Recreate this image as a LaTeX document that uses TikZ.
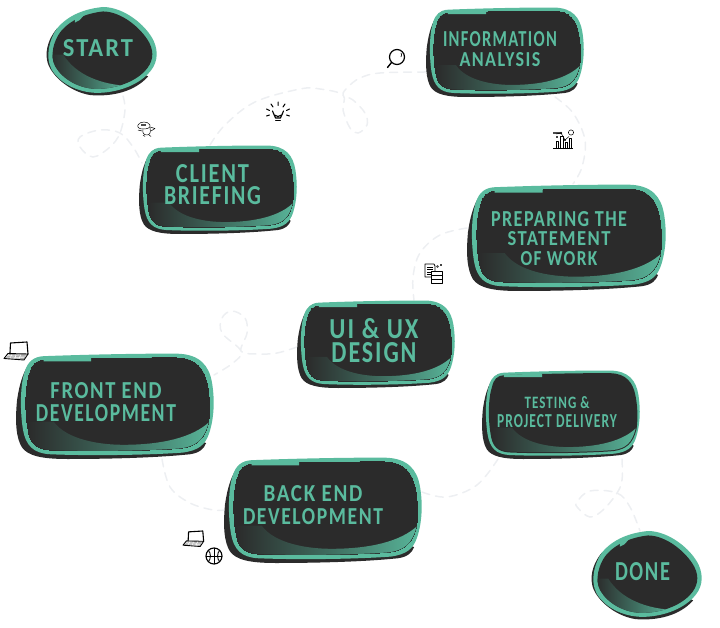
\documentclass[tikz,border=0pt]{standalone}
\usepackage{graphicx}
\usepackage{fontspec}
\setmainfont{Carlito}[BoldFont=Carlito Bold,LetterSpace=8]
\definecolor{tealb}{HTML}{5ABB9E}
\definecolor{darkb}{HTML}{2B2B2B}
\definecolor{dashc}{HTML}{EDEFF2}
\definecolor{midb}{HTML}{3F6E60}
\tikzset{
  boxnode/.style={inner sep=0pt,outer sep=0pt},
  conn/.style={dashc,line width=1.5pt,dash pattern=on 8pt off 6pt,line cap=round},
  lab/.style={inner sep=0pt,text=tealb,font=\bfseries},
  ico/.style={black,line width=.8pt,line cap=round,line join=round,fill=none},
  icot/.style={black,line width=.5pt,line join=round,fill=none},
}
\newcommand\FL[3]{\resizebox{#1pt}{#2pt}{#3}}
\def\RT{(.139,.03) .. controls (.35,.015) and (.6,.005) .. (.81,.006) .. controls (.93,.01) and (.975,.12) .. (.99,.28) .. controls (1.005,.45) and (1.0,.62) .. (.975,.76) .. controls (.955,.87) and (.92,.92) .. (.84,.94) .. controls (.65,.965) and (.35,.97) .. (.17,.955) .. controls (.09,.945) and (.05,.88) .. (.035,.72) .. controls (.02,.55) and (.02,.3) .. (.045,.17) .. controls (.06,.08) and (.09,.035) .. (.139,.03) -- cycle}
\def\RI{(.139,.07) .. controls (.35,.055) and (.6,.045) .. (.81,.047) .. controls (.91,.05) and (.95,.15) .. (.965,.29) .. controls (.98,.42) and (.98,.55) .. (.972,.66) .. controls (.95,.82) and (.91,.88) .. (.83,.9) .. controls (.65,.925) and (.35,.93) .. (.17,.915) .. controls (.10,.905) and (.07,.85) .. (.06,.71) .. controls (.045,.55) and (.045,.32) .. (.07,.19) .. controls (.08,.11) and (.1,.075) .. (.139,.07) -- cycle}
\def\RD{(.10,.05) .. controls (.05,.1) and (.02,.25) .. (.005,.45) .. controls (-.005,.65) and (0,.8) .. (.03,.89) .. controls (.06,.97) and (.13,1) .. (.26,1) .. controls (.45,1.0) and (.7,.99) .. (.88,.955) .. controls (.93,.94) and (.95,.9) .. (.96,.85) -- (.5,.5) -- cycle}
\def\ET{(.513,0) .. controls (.70,.0) and (.90,.2) .. (.97,.38) .. controls (1.02,.52) and (1.0,.65) .. (.92,.75) .. controls (.82,.88) and (.65,.96) .. (.47,.965) .. controls (.28,.965) and (.12,.85) .. (.05,.70) .. controls (-.01,.56) and (.03,.36) .. (.10,.24) .. controls (.2,.09) and (.35,.02) .. (.513,0) -- cycle}
\def\EI{(.513,.05) .. controls (.68,.05) and (.86,.24) .. (.93,.40) .. controls (.98,.52) and (.96,.63) .. (.89,.72) .. controls (.80,.84) and (.63,.92) .. (.46,.92) .. controls (.30,.92) and (.15,.81) .. (.085,.67) .. controls (.03,.55) and (.07,.38) .. (.13,.28) .. controls (.22,.14) and (.37,.07) .. (.513,.05) -- cycle}
\def\ED{(.10,.24) .. controls (.03,.34) and (-.01,.48) .. (.01,.60) .. controls (.03,.75) and (.20,.95) .. (.40,.99) .. controls (.6,1.01) and (.8,.95) .. (.92,.78) -- (.5,.5) -- cycle}
\newcommand\roundblob[5][0pt]{%
  \begin{scope}[shift={(#2,#3)},x=#4pt,y=-#5pt]
    \fill[darkb] \RD;
    \fill[tealb] \RT;
    \fill[darkb] \RI;
    \draw[darkb,line width=#1] \RI;
    \fill[tealb] (.139,.055) -- (.38,.04) -- (.38,.08) -- (.139,.08) -- cycle;
    \begin{scope}
      \clip \RI;
      \shade[left color=darkb,right color=tealb,middle color=midb] (.19,.647) .. controls (.257,.819) and (.424,.866) .. (.542,.866) .. controls (.727,.866) and (.894,.803) .. (.982,.64) -- (1.02,.64) -- (1.02,1) -- (.06,1) -- (.06,.647) -- cycle;
    \end{scope}
  \end{scope}}
\newcommand\eggblob[4]{%
  \begin{scope}[shift={(#1,#2)},x=#3pt,y=-#4pt]
    \fill[darkb] \ED;
    \fill[tealb] \ET;
    \fill[darkb] \EI;
    \fill[tealb] (.26,.12) -- (.36,.07) -- (.30,.15) -- (.26,.175) -- cycle;
    \begin{scope}
      \clip \EI;
      \shade[left color=darkb,right color=tealb,middle color=midb] (.155,.534) .. controls (.275,.776) and (.513,.869) .. (.72,.885) -- (.76,.885) -- (.76,1) -- (.04,1) -- (.04,.534) -- cycle;
    \end{scope}
  \end{scope}}
\newcommand\laptop[3]{%
  \begin{scope}[shift={(#1,#2)},scale=#3]
    \draw[ico,line width=1.1pt] (6,11) -- (6.5,1) -- (23,0) -- (24,12);
    \fill[gray!70] (5,12) -- (22,12.5) -- (20,17) -- (2,16) -- cycle;
    \draw[ico,line width=.9pt] (4,11.5) -- (24,12) -- (20,18) -- (0,16.5) -- cycle;
    \draw[white,line width=.5pt] (4,13.6) -- (21,14.2) (3,15) -- (20,15.6) (8,12.5) -- (6,16) (12,12.5) -- (11,16.5) (17,12.5) -- (15,16.8);
  \end{scope}}
\begin{document}
\begin{tikzpicture}[x=1pt,y=-1pt]
\useasboundingbox (0,0) rectangle (720,628);
% layout boxes
\node[boxnode,minimum width=111pt,minimum height=89pt] (startbox) at (101.5,51.5) {};
\node[boxnode,minimum width=158pt,minimum height=89pt] (clientbox) at (218,189.5) {};
\node[boxnode,minimum width=158pt,minimum height=90pt] (infobox) at (505,52) {};
\node[boxnode,minimum width=199pt,minimum height=107pt] (prepbox) at (566.5,237.5) {};
\node[boxnode,minimum width=158pt,minimum height=88pt] (uibox) at (376,344) {};
\node[boxnode,minimum width=198pt,minimum height=106pt] (frontbox) at (115,406) {};
\node[boxnode,minimum width=198pt,minimum height=106pt] (backbox) at (323,510) {};
\node[boxnode,minimum width=158pt,minimum height=89pt] (testbox) at (561,414.5) {};
\node[boxnode,minimum width=111pt,minimum height=89pt] (donebox) at (646.5,575.5) {};
% connectors
\draw[conn] plot[smooth,tension=.6] coordinates {([xshift=21.5pt]startbox.south) (125,110) (120,133) (110,147) (93,157) (80,147) (80,137) (100,130) (120,133) (133,147) ([xshift=-76pt,yshift=-18pt]clientbox.north)};
\draw[conn] plot[smooth,tension=.6] coordinates {([xshift=-8pt]clientbox.north) (225,125) (255,102) (300,89) (320,89) (343,95) (343,110) (350,128) (358,133) (367,125) (365,113) (353,100) (343,95) (348,87) (360,78) (380,73) (infobox.west |- 0,72)};
\draw[conn] plot[smooth,tension=.6] coordinates {([xshift=50pt]infobox.south) (573,113) (585,140) (582,167) ([xshift=6.5pt]prepbox.north)};
\draw[conn] plot[smooth,tension=.6] coordinates {([yshift=9.5pt]prepbox.west) (440,235) (420,253) (413,277) ([xshift=38pt]uibox.north)};
\draw[conn] plot[smooth,tension=.6] coordinates {([yshift=-3pt]uibox.west) (277,353) (257,354) (241,351) (247,333) (245,318) (232,311) (222,318) (222,333) (241,351) (233,363) ([yshift=31pt]frontbox.east)};
\draw[conn] plot[smooth,tension=.6] coordinates {([xshift=47pt]frontbox.south) (170,487) (190,503) (213,510) (backbox.west)};
\draw[conn] plot[smooth,tension=.6] coordinates {([yshift=18pt]backbox.east) (447,497) (477,485) ([xshift=-63pt]testbox.south)};
\draw[conn] plot[smooth,tension=.6] coordinates {([xshift=61pt]testbox.south) (622,480) (617,493) (603,510) (590,517) (578,508) (577,502) (590,491) (617,493) (630,507) ([xshift=-6.5pt]donebox.north)};
% blobs
\eggblob{46}{7}{111}{89}
\roundblob{139}{145}{158}{89}
\roundblob{426}{7}{158}{90}
\roundblob{467}{184}{199}{107}
\roundblob{297}{300}{158}{88}
\roundblob{16}{353}{198}{106}
\roundblob{224}{457}{198}{106}
\roundblob[2pt]{482}{370}{158}{89}
\eggblob{591}{531}{111}{89}
% labels
\node[lab] (start) at (98,48.5) {\FL{70}{17}{START}};
\node[lab] (client) at (212.5,184.5) {\shortstack{\FL{73}{18}{CLIENT}\\[0pt]\FL{97}{18}{BRIEFING}}};
\node[lab] (info) at (500,49) {\shortstack{\FL{114}{15}{INFORMATION}\\[2pt]\FL{81}{14}{ANALYSIS}}};
\node[lab] (prep) at (559,238.5) {\shortstack{\FL{136}{15}{PREPARING THE}\\[2pt]\FL{103}{14}{STATEMENT}\\[2pt]\FL{77}{14}{OF WORK}}};
\node[lab] (ui) at (374,340.5) {\shortstack{\FL{89}{20}{UI \& UX}\\[0pt]\FL{85}{20}{DESIGN}}};
\node[lab] (front) at (106,402.5) {\shortstack{\FL{111}{16}{FRONT END}\\[3pt]\FL{140}{17}{DEVELOPMENT}}};
\node[lab] (back) at (313,505) {\shortstack{\FL{99}{16}{BACK END}\\[3pt]\FL{140}{16}{DEVELOPMENT}}};
\node[lab] (test) at (557,412.5) {\shortstack{\FL{65}{12}{TESTING \&}\\[3pt]\FL{120}{13}{PROJECT DELIVERY}}};
\node[lab] (done) at (642.5,572) {\FL{55}{18}{DONE}};
% icons
\draw[ico,line width=1.2pt] (397,57) circle (7.5);
\draw[ico,line width=1.4pt] (391.5,62.5) -- (387.5,67.5);
\draw[ico,line width=.6pt] (401,53) arc (-40:40:3);
% bulb
\draw[ico,line width=1.1pt] (275.5,118) .. controls (275.5,115) and (272.5,114) .. (272.5,111) arc (180:0:5.5) .. controls (283.5,114) and (280.5,115) .. (280.5,118) -- cycle;
\draw[ico,line width=1.4pt] (275.8,120.5) -- (280.2,120.5);
\draw[ico,line width=1pt] (278,102) -- (278,105.5) (271,104) -- (273,107) (285,104) -- (283,107) (266.5,109) -- (269.5,110.5) (289.5,109) -- (286.5,110.5) (266.5,116) -- (269.5,115) (289.5,116) -- (286.5,115);
% small creature
\draw[icot] (138,125) .. controls (140,121) and (148,121) .. (150,125) .. controls (151,128) and (147,129) .. (143,129) .. controls (140,129) and (137,128) .. (138,125) -- cycle;
\fill[black!70] (141,124.5) rectangle (146,126.5);
\draw[icot] (143,129.5) .. controls (142,133) and (144,135) .. (147,135) .. controls (150,135) and (151,132) .. (150,128);
\draw[icot] (150,127) -- (155,128.5) -- (151,131);
\draw[icot] (143,135) -- (145,136.5) (149,135) -- (151,136.5) (138,130) -- (142,131);
% chart
\draw[icot,line width=.7pt] (553,148) -- (573,148);
\draw[icot] (556,148) -- (556,141) -- (558,141) -- (558,148) (560,148) -- (560,136) -- (563,136) -- (563,148) (565,148) -- (565,142) -- (567,142) -- (567,148) (569,148) -- (569,138) -- (571,138) -- (571,148);
\draw[icot] (571,132.5) circle (2.6);
\fill[black!70] (553,132.5) rectangle (560,134.5);
\draw[icot] (556,134) -- (561,133) -- (565,140) -- (569,136.5);
\draw[icot] (557,137) circle (.8) (561,133) circle (1) (565,140) circle (.8);
% docs
\draw[icot,line width=.7pt,fill=white] (425,264) -- (434,264) -- (435,266) -- (435,277) -- (425,277) -- cycle;
\draw[icot] (427,267) -- (433,267) (427,269.5) -- (433,269.5) (427,272) -- (433,272) (427,274.5) -- (431,274.5);
\draw[icot,line width=.8pt,fill=white] (431,271) rectangle (442,283);
\draw[icot] (431,275) -- (442,275) (431,279) -- (442,279);
\draw[icot] (437.5,266.5) circle (1) (441,265) circle (.7);
% laptops
\laptop{4}{342}{1}
\laptop{183}{531}{.86}
% ball
\draw[ico,line width=1.1pt] (214,556) circle (8);
\draw[ico,line width=.9pt] (214,548) -- (214,564) (206,556) -- (222,556);
\draw[ico,line width=.9pt] (208.5,550.5) .. controls (211,553) and (211,559) .. (208.5,561.5) (219.5,550.5) .. controls (217,553) and (217,559) .. (219.5,561.5);
\end{tikzpicture}
\end{document}
